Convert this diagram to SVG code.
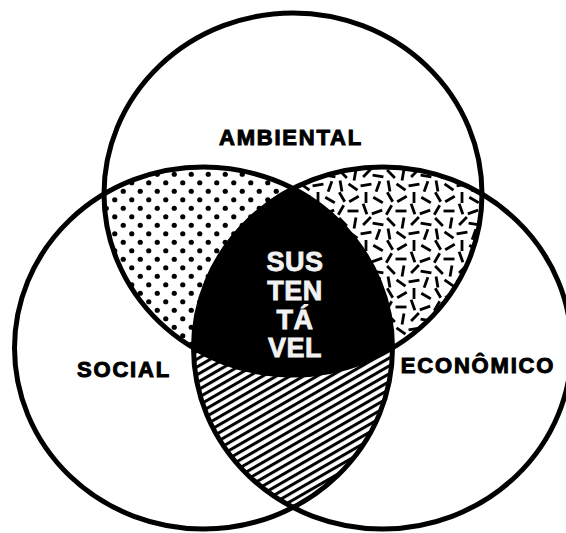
<svg xmlns="http://www.w3.org/2000/svg" width="566" height="533" viewBox="0 0 566 533">
<style>
.ring{fill:none;stroke:#000;stroke-width:5}
.lbl{font-family:"Liberation Sans",Arial,sans-serif;font-weight:bold;font-size:22px;letter-spacing:1.8px;fill:#000;stroke:#000;stroke-width:1;text-anchor:middle}
.ctr{font-family:"Liberation Sans",Arial,sans-serif;font-weight:bold;font-size:27px;letter-spacing:0.5px;fill:#f2f2f2;stroke:#f2f2f2;stroke-width:0.8;text-anchor:middle}
.dash{stroke:#000;stroke-width:2.8}
</style>
<defs>
<clipPath id="cTop"><ellipse cx="293" cy="194" rx="189" ry="181"/></clipPath>
<clipPath id="cLeft"><ellipse cx="203.5" cy="348" rx="189" ry="181"/></clipPath>
<clipPath id="cRight"><ellipse cx="382.5" cy="348" rx="189" ry="181"/></clipPath>
<pattern id="dots" width="17" height="17" patternUnits="userSpaceOnUse">
<rect width="17" height="17" fill="#fff"/>
<circle cx="4.25" cy="4.25" r="2.6" fill="#000"/>
<circle cx="12.75" cy="12.75" r="2.6" fill="#000"/>
</pattern>
<pattern id="dashes" width="48" height="48" patternUnits="userSpaceOnUse">
<rect width="48" height="48" fill="#fff"/>
<line class="dash" x1="3.25" y1="0.24" x2="8.75" y2="9.76"/>
<line class="dash" x1="22.76" y1="4.25" x2="13.24" y2="9.75"/>
<line class="dash" x1="30" y1="0" x2="30" y2="11"/>
<line class="dash" x1="37.24" y1="5.25" x2="46.76" y2="10.75"/>
<line class="dash" x1="7.75" y1="13.24" x2="2.25" y2="22.76"/>
<line class="dash" x1="11.5" y1="19" x2="22.5" y2="19"/>
<line class="dash" x1="27.12" y1="11.83" x2="30.88" y2="22.17"/>
<line class="dash" x1="46.17" y1="18.12" x2="35.83" y2="21.88"/>
<line class="dash" x1="3.11" y1="26.11" x2="10.89" y2="33.89"/>
<line class="dash" x1="19.96" y1="25.58" x2="18.04" y2="36.42"/>
<line class="dash" x1="34.89" y1="25.11" x2="27.11" y2="32.89"/>
<line class="dash" x1="36.58" y1="31.04" x2="47.42" y2="32.96"/>
<line class="dash" x1="4.04" y1="36.58" x2="5.96" y2="47.42"/>
<line class="dash" x1="12.5" y1="39.85" x2="21.5" y2="46.15"/>
<line class="dash" x1="35.42" y1="40.04" x2="24.58" y2="41.96"/>
<line class="dash" x1="43.88" y1="37.33" x2="40.12" y2="47.67"/>
</pattern>
<pattern id="hatch" width="10" height="6.8" patternUnits="userSpaceOnUse" patternTransform="rotate(-30)">
<rect width="10" height="6.8" fill="#fff"/>
<rect width="10" height="3" fill="#000"/>
</pattern>
</defs>
<rect width="566" height="533" fill="#fff"/>
<g id="regions">
<g id="ambiental-social" clip-path="url(#cTop)"><ellipse cx="203.5" cy="348" rx="189" ry="181" fill="url(#dots)"/></g>
<g id="ambiental-economico" clip-path="url(#cTop)"><ellipse cx="382.5" cy="348" rx="189" ry="181" fill="url(#dashes)"/></g>
<g id="social-economico" clip-path="url(#cLeft)"><ellipse cx="382.5" cy="348" rx="189" ry="181" fill="url(#hatch)"/></g>
<g id="sustentavel-area" clip-path="url(#cTop)"><g clip-path="url(#cLeft)"><ellipse cx="382.5" cy="348" rx="189" ry="181" fill="#000"/></g></g>
</g>
<g id="ambiental"><ellipse class="ring" cx="293" cy="194" rx="189" ry="181"/><text class="lbl" x="291" y="145">AMBIENTAL</text></g>
<g id="social"><ellipse class="ring" cx="203.5" cy="348" rx="189" ry="181"/><text class="lbl" x="124" y="377">SOCIAL</text></g>
<g id="economico"><ellipse class="ring" cx="382.5" cy="348" rx="189" ry="181"/><text class="lbl" x="478" y="373">ECONÔMICO</text></g>
<g id="sustentavel">
<text class="ctr" x="295" y="271">SUS</text>
<text class="ctr" x="295" y="300">TEN</text>
<text class="ctr" x="295" y="329">TÁ</text>
<text class="ctr" x="295" y="357">VEL</text>
</g>
</svg>
